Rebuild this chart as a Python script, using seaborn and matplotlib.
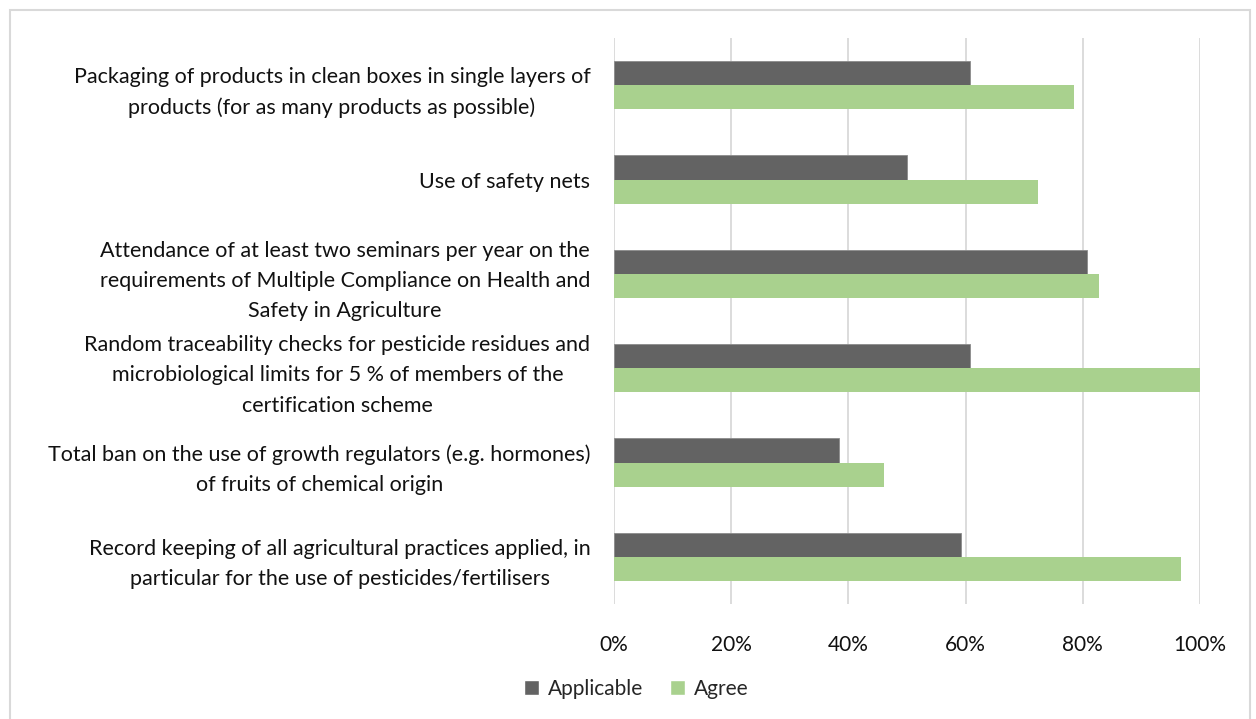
import matplotlib
matplotlib.use("Agg")
import matplotlib.pyplot as plt
import matplotlib.patches as mpatches
from matplotlib.ticker import PercentFormatter
import seaborn as sns
import pandas as pd

# data
practices = [
    "Packaging of products in clean boxes in single layers of\nproducts (for as many products as possible)",
    "Use of safety nets",
    "Attendance of at least two seminars per year on the\nrequirements of Multiple Compliance on Health and\nSafety in Agriculture",
    "Random traceability checks for pesticide residues and\nmicrobiological limits for 5 % of members of the\ncertification scheme",
    "Total ban on the use of growth regulators (e.g. hormones)\nof fruits of chemical origin",
    "Record keeping of all agricultural practices applied, in\nparticular for the use of pesticides/fertilisers",
]
applicable = [0.608, 0.500, 0.807, 0.607, 0.384, 0.592]
agree = [0.785, 0.724, 0.828, 1.000, 0.460, 0.967]
series = ["Applicable", "Agree"]
colors = ["#636363", "#A9D18E"]
xticks = [0, 0.2, 0.4, 0.6, 0.8, 1.0]

df = pd.DataFrame({"practice": practices * 2,
                   "share": applicable + agree,
                   "series": [series[0]] * len(practices) + [series[1]] * len(practices)})

sns.set_style("white")
plt.rcParams["font.family"] = ["Lato", "DejaVu Sans"]

fig = plt.figure(figsize=(12.56, 7.19), dpi=100)
# light grey chart border
fig.patches.append(mpatches.Rectangle((10 / 1256, -0.05), 1240 / 1256, 1.05 - 10 / 719,
                                      transform=fig.transFigure, fill=False,
                                      edgecolor="#D9D9D9", linewidth=1.5))
ax = fig.add_axes([614 / 1256, 1 - 604 / 719, 586 / 1256, 566 / 719])

sns.barplot(data=df, x="share", y="practice", hue="series", hue_order=series,
            palette=colors, width=0.51, orient="h", ax=ax, legend=False,
            edgecolor="#8C8C8C", linewidth=0.6, saturation=1)

# only the dark bars have a visible outline
for patch in ax.patches:
    if abs(patch.get_facecolor()[1] - 0.82) < 0.05:
        patch.set_edgecolor("none")

ax.set_xlim(0, 1.0)
ax.set_ylim(len(practices) - 0.5, -0.5)
ax.set_xticks(xticks)
ax.xaxis.set_major_formatter(PercentFormatter(1.0, decimals=0))
ax.grid(axis="x", color="#D9D9D9", linewidth=1.3)
ax.set_axisbelow(True)
for s in ax.spines.values():
    s.set_visible(False)
ax.set_xlabel("")
ax.set_ylabel("")
ax.tick_params(axis="y", length=0, labelsize=15.5, labelcolor="#111111", pad=17)
ax.tick_params(axis="x", length=0, labelsize=15, labelcolor="#111111", pad=22)
for lab in ax.get_yticklabels():
    lab.set_multialignment("center")
    lab.set_linespacing(1.65)

handles = [mpatches.Patch(facecolor=c, label=s) for c, s in zip(colors, series)]
fig.legend(handles=handles, loc="center", bbox_to_anchor=(636 / 1256, 1 - 689 / 719),
           ncol=2, frameon=False, fontsize=15, handlelength=0.75, handleheight=0.75,
           handletextpad=0.4, columnspacing=1.3)

fig.savefig("out.png", dpi=100)
